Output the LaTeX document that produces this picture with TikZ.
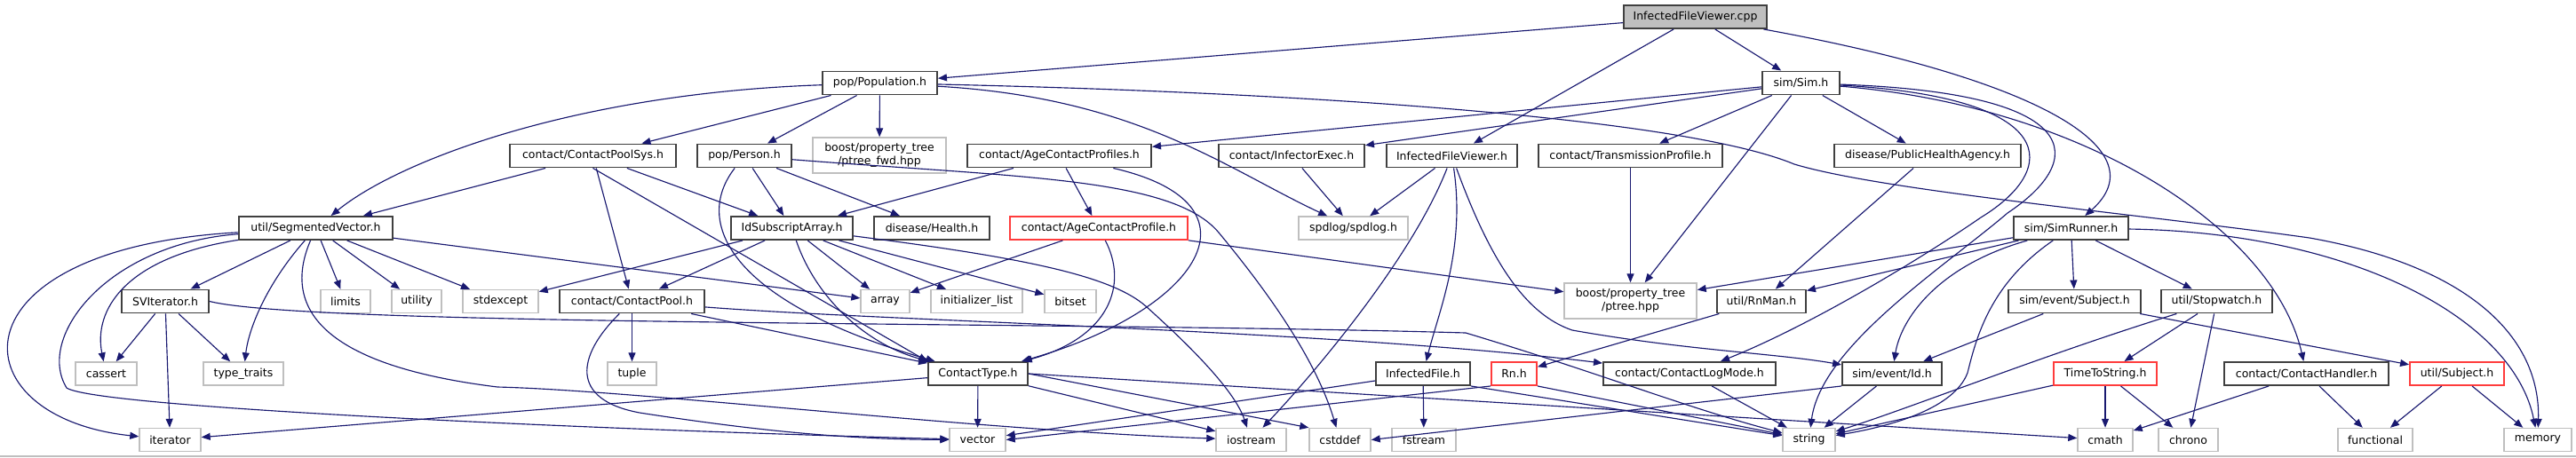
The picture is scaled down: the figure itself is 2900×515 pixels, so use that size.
\documentclass[tikz,border=0pt]{standalone}
\usepackage{fontspec}
\setmainfont{DejaVu Sans}
\usepackage{xcolor}
\usepackage{tikz}
\usetikzlibrary{arrows.meta}

\definecolor{edgeblue}{RGB}{25,25,112}
\definecolor{boxgray}{RGB}{191,191,191}
\definecolor{boxred}{RGB}{255,60,60}

\tikzset{
  hdr/.style={draw=black!75, line width=1.1pt, fill=white, inner sep=0pt,
    minimum height=0.52cm, minimum width={#1*0.02cm},
    font=\fontsize{7.1}{8.5}\selectfont},
  sysh/.style={hdr=#1, draw=boxgray, line width=0.8pt},
  trunc/.style={hdr=#1, draw=boxred},
  root/.style={hdr=#1, fill=boxgray},
  twoline/.style={minimum height=0.8cm, align=center},
  edge/.style={->, draw=edgeblue, line width=0.65pt}
}

\begin{document}
\begin{tikzpicture}[>={Triangle[length=0.2cm,width=0.16cm]}, x=0.02cm, y=-0.02cm]
    \useasboundingbox (0,0) rectangle (2900,515);
    \draw[boxgray, line width=0.8pt] (0,514) -- (2900,514);

    % Tệp gốc
    \node[root=161] (cpp) at (1908.5,19) {InfectedFileViewer.cpp};

    % Hàng 1
    \node[hdr=129] (pop) at (990.5,93.5) {pop/Population.h};
    \node[hdr=87] (sim) at (2027.5,93.5) {sim/Sim.h};

    % Hàng 2
    \node[hdr=187] (cps) at (667.5,175.5) {contact/ContactPoolSys.h};
    \node[hdr=106] (person) at (838,175.5) {pop/Person.h};
    \node[sysh=150, twoline] (ptfwd) at (990,175) {boost/property\_tree\\/ptree\_fwd.hpp};
    \node[hdr=207] (acps) at (1192.5,175.5) {contact/AgeContactProfiles.h};
    \node[hdr=164] (infexec) at (1454,175.5) {contact/InfectorExec.h};
    \node[hdr=147] (ifvh) at (1634.5,175.5) {InfectedFileViewer.h};
    \node[hdr=207] (tprof) at (1835.5,175.5) {contact/TransmissionProfile.h};
    \node[hdr=210] (pha) at (2170,175.5) {disease/PublicHealthAgency.h};

    % Hàng 3
    \node[hdr=173] (segv) at (355.5,257) {util/SegmentedVector.h};
    \node[hdr=137] (idsa) at (891.5,257) {IdSubscriptArray.h};
    \node[hdr=130] (health) at (1049,257) {disease/Health.h};
    \node[trunc=200] (acp) at (1237,257) {contact/AgeContactProfile.h};
    \node[sysh=123] (spdlog) at (1523.5,257) {spdlog/spdlog.h};
    \node[hdr=129] (simrun) at (2331.5,257) {sim/SimRunner.h};

    % Hàng 4
    \node[hdr=98] (sviter) at (186,339.5) {SVIterator.h};
    \node[sysh=56] (limits) at (389,339.5) {limits};
    \node[sysh=56] (utility) at (469,339.5) {utility};
    \node[sysh=85] (stdexc) at (563.5,339.5) {stdexcept};
    \node[hdr=163] (cpool) at (711.5,339.5) {contact/ContactPool.h};
    \node[sysh=55] (array) at (996.5,339.5) {array};
    \node[sysh=103] (initl) at (1099.5,339.5) {initializer\_list};
    \node[sysh=58] (bitset) at (1205,339.5) {bitset};
    \node[sysh=149, twoline] (ptree) at (1835.5,339) {boost/property\_tree\\/ptree.hpp};
    \node[hdr=100] (rnman) at (1983,339.5) {util/RnMan.h};
    \node[hdr=149] (evsubj) at (2335.5,339.5) {sim/event/Subject.h};
    \node[hdr=125] (stopw) at (2495.5,339.5) {util/Stopwatch.h};

    % Hàng 5
    \node[sysh=69] (cassert) at (119.5,421) {cassert};
    \node[sysh=90] (ttraits) at (274,421) {type\_traits};
    \node[sysh=55] (tuple) at (711.5,421) {tuple};
    \node[hdr=112] (ctype) at (1101,421) {ContactType.h};
    \node[hdr=106] (inff) at (1602,421) {InfectedFile.h};
    \node[trunc=51] (rn) at (1704.5,421) {Rn.h};
    \node[hdr=194] (clog) at (1902,421) {contact/ContactLogMode.h};
    \node[hdr=112] (evid) at (2130,421) {sim/event/Id.h};
    \node[trunc=116] (tts) at (2370,421) {TimeToString.h};
    \node[hdr=185] (chand) at (2596.5,421) {contact/ContactHandler.h};
    \node[trunc=106] (usubj) at (2766,421) {util/Subject.h};

    % Hàng 6: thư viện chuẩn
    \node[sysh=69] (iter) at (191.5,495.5) {iterator};
    \node[sysh=63] (vector) at (1100.5,495.5) {vector};
    \node[sysh=79] (iostream) at (1408.5,495.5) {iostream};
    \node[sysh=69] (cstddef) at (1508.5,495.5) {cstddef};
    \node[sysh=72] (fstream) at (1603,495.5) {fstream};
    \node[sysh=59] (string) at (2036.5,495.5) {string};
    \node[sysh=62] (cmath) at (2370,495.5) {cmath};
    \node[sysh=67] (chrono) at (2463.5,495.5) {chrono};
    \node[sysh=84] (functional) at (2674,495.5) {functional};
    \node[sysh=76] (memory) at (2857,495.5) {memory};

    % Cạnh từ tệp gốc
    \draw[edge] (cpp) -- (pop);
    \draw[edge] (cpp) -- (sim);
    \draw[edge] (cpp) -- (ifvh);
    \draw[edge] (cpp) .. controls (2300,90) and (2430,170) .. (simrun);

    % pop/Population.h
    \draw[edge] (pop) .. controls (650,105) and (450,180) .. (segv);
    \draw[edge] (pop) -- (cps);
    \draw[edge] (pop) -- (person);
    \draw[edge] (pop) -- (ptfwd);
    \draw[edge] (pop) .. controls (1280,110) and (1380,190) .. (spdlog);
    \draw[edge] (pop) .. controls (1500,105) and (1900,135) .. (2020,185)
        .. controls (2120,215) and (2400,240) .. (2600,268)
        .. controls (2780,300) and (2860,380) .. (memory);

    % sim/Sim.h
    \draw[edge] (sim) -- (acps);
    \draw[edge] (sim) -- (infexec);
    \draw[edge] (sim) -- (tprof);
    \draw[edge] (sim) -- (pha);
    \draw[edge] (sim) -- (ptree);
    \draw[edge] (sim) .. controls (2320,110) and (2320,190) .. (2230,245)
        .. controls (2150,300) and (2030,370) .. (clog);
    \draw[edge] (sim) .. controls (2350,105) and (2350,180) .. (2260,240)
        .. controls (2190,300) and (2050,390) .. (string);
    \draw[edge] (sim) .. controls (2350,120) and (2560,260) .. (chand);

    % Hàng 2
    \draw[edge] (cps) -- (segv);
    \draw[edge] (cps) -- (cpool);
    \draw[edge] (cps.south) -- (ctype.north west);
    \draw[edge] (cps) -- (idsa);
    \draw[edge] (person) -- (idsa);
    \draw[edge] (person) -- (health);
    \draw[edge] (person) .. controls (780,250) and (820,340) .. (ctype);
    \draw[edge] (person) .. controls (1150,200) and (1320,200) .. (1372,262)
        .. controls (1420,320) and (1480,400) .. (cstddef);
    \draw[edge] (acps) -- (idsa);
    \draw[edge] (acps) -- (acp);
    \draw[edge] (acps) .. controls (1430,230) and (1350,350) .. (ctype);
    \draw[edge] (infexec) -- (spdlog);
    \draw[edge] (ifvh) -- (spdlog);
    \draw[edge] (ifvh) .. controls (1650,280) and (1620,350) .. (inff);
    \draw[edge] (ifvh) .. controls (1590,290) and (1480,420) .. (iostream);
    \draw[edge] (ifvh) .. controls (1680,300) and (1720,355) .. (1770,372)
        .. controls (1900,395) and (2000,398) .. (evid);
    \draw[edge] (tprof) -- (ptree);
    \draw[edge] (pha) -- (rnman);

    % Hàng 3
    \draw[edge] (segv) -- (sviter);
    \draw[edge] (segv) -- (limits);
    \draw[edge] (segv) -- (utility);
    \draw[edge] (segv) -- (stdexc);
    \draw[edge] (segv) -- (array);
    \draw[edge] (segv) .. controls (140,290) and (105,350) .. (cassert);
    \draw[edge] (segv) .. controls (300,320) and (280,370) .. (ttraits);
    \draw[edge] (segv) .. controls (-60,280) and (-50,470) .. (iter);
    \draw[edge] (segv) .. controls (120,275) and (40,380) .. (75,437)
        .. controls (110,460) and (700,485) .. (vector);
    \draw[edge] (segv) .. controls (320,340) and (350,410) .. (560,436)
        .. controls (720,440) and (1100,485) .. (iostream);
    \draw[edge] (idsa) -- (stdexc);
    \draw[edge] (idsa) -- (cpool);
    \draw[edge] (idsa) -- (array);
    \draw[edge] (idsa) -- (initl);
    \draw[edge] (idsa) -- (bitset);
    \draw[edge] (idsa) .. controls (920,340) and (980,390) .. (ctype);
    \draw[edge] (idsa) .. controls (1150,290) and (1250,310) .. (1290,345)
        .. controls (1340,390) and (1390,440) .. (iostream);
    \draw[edge] (acp) -- (array);
    \draw[edge] (acp) .. controls (1270,320) and (1250,380) .. (ctype);
    \draw[edge] (acp) -- (ptree);
    \draw[edge] (simrun) -- (ptree);
    \draw[edge] (simrun) -- (rnman);
    \draw[edge] (simrun) -- (evsubj);
    \draw[edge] (simrun) -- (stopw);
    \draw[edge] (simrun) .. controls (2180,300) and (2140,360) .. (evid);
    \draw[edge] (simrun) .. controls (2240,320) and (2225,380) .. (2215,420)
        .. controls (2200,460) and (2130,480) .. (string);
    \draw[edge] (simrun) .. controls (2650,262) and (2830,360) .. (memory);

    % Hàng 4
    \draw[edge] (sviter) -- (cassert);
    \draw[edge] (sviter) -- (ttraits);
    \draw[edge] (sviter) -- (iter);
    \draw[edge] (sviter.east) .. controls (350,368) and (1200,362) .. (1650,375)
        .. controls (1800,420) and (1900,460) .. (string);
    \draw[edge] (cpool) -- (tuple);
    \draw[edge] (cpool) -- (ctype);
    \draw[edge] (cpool) .. controls (650,400) and (640,450) .. (720,465)
        .. controls (850,485) and (950,495) .. (vector);
    \draw[edge] (cpool) .. controls (1000,362) and (1500,372) .. (clog);
    \draw[edge] (rnman) -- (rn);
    \draw[edge] (evsubj) -- (evid);
    \draw[edge] (evsubj) -- (usubj);
    \draw[edge] (stopw) -- (tts);
    \draw[edge] (stopw) -- (chrono);
    \draw[edge] (stopw) .. controls (2300,400) and (2150,460) .. (string);

    % Hàng 5
    \draw[edge] (ctype) -- (iter);
    \draw[edge] (ctype) -- (vector);
    \draw[edge] (ctype) -- (iostream);
    \draw[edge] (ctype.east) -- (cstddef.north west);
    \draw[edge] (ctype.east) -- (cmath);
    \draw[edge] (inff) -- (fstream);
    \draw[edge] (inff) -- (vector);
    \draw[edge] (inff.south east) -- (string);
    \draw[edge] (rn.south west) -- (vector.east);
    \draw[edge] (rn.south east) -- (string);
    \draw[edge] (clog) -- (string);
    \draw[edge] (evid) -- (string);
    \draw[edge] (evid.south west) -- (cstddef.east);
    \draw[edge] (tts) -- (string);
    \draw[edge] (tts) -- (cmath);
    \draw[edge] (tts) -- (chrono);
    \draw[edge] (chand) -- (cmath);
    \draw[edge] (chand) -- (functional);
    \draw[edge] (usubj) -- (functional);
    \draw[edge] (usubj) -- (memory);
\end{tikzpicture}
\end{document}
